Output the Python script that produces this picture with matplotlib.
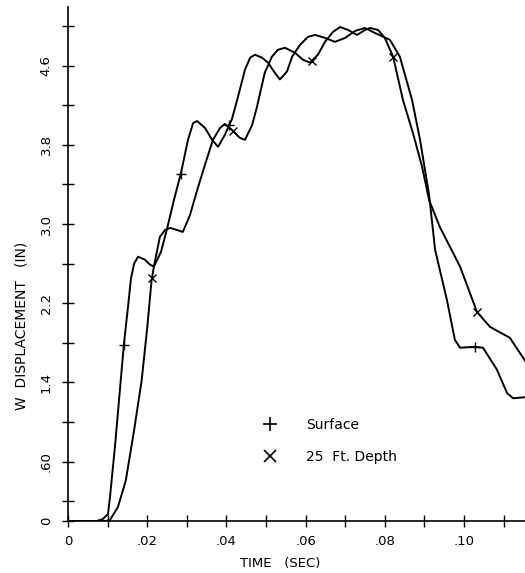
import numpy as np
import matplotlib
matplotlib.use("Agg")
import matplotlib.pyplot as plt
from matplotlib.lines import Line2D

# ---- data ----
surface_t = [0.0, 0.0073, 0.0088, 0.0101, 0.0106, 0.0119, 0.0131, 0.0141, 0.0152, 0.0159,
             0.0167, 0.0177, 0.0194, 0.0207, 0.0217, 0.0235, 0.0250, 0.0268, 0.0285, 0.0303,
             0.0316, 0.0326, 0.0346, 0.0364, 0.0379, 0.0396, 0.0414, 0.0429, 0.0447, 0.0460,
             0.0472, 0.0490, 0.0505, 0.0520, 0.0535, 0.0553, 0.0566, 0.0586, 0.0606, 0.0624,
             0.0649, 0.0674, 0.0700, 0.0725, 0.0750, 0.0775, 0.0813, 0.0838, 0.0869, 0.0889,
             0.0912, 0.0927, 0.0957, 0.0977, 0.0990, 0.1028, 0.1048, 0.1083, 0.1109, 0.1124,
             0.1154]
surface_w = [0.0, 0.0, 0.02, 0.07, 0.24, 0.77, 1.32, 1.78, 2.18, 2.45,
             2.60, 2.67, 2.64, 2.59, 2.57, 2.72, 2.95, 3.25, 3.51, 3.85,
             4.02, 4.04, 3.97, 3.85, 3.78, 3.90, 4.06, 4.28, 4.56, 4.68,
             4.71, 4.68, 4.63, 4.54, 4.46, 4.54, 4.69, 4.81, 4.89, 4.91,
             4.88, 4.84, 4.88, 4.95, 4.98, 4.93, 4.86, 4.69, 4.25, 3.85,
             3.29, 2.74, 2.23, 1.83, 1.75, 1.76, 1.75, 1.53, 1.29, 1.24,
             1.25]

depth_t = [0.0, 0.0095, 0.0106, 0.0126, 0.0146, 0.0167, 0.0186, 0.0200, 0.0211, 0.0217,
           0.0232, 0.0245, 0.0258, 0.0275, 0.0290, 0.0308, 0.0326, 0.0346, 0.0366, 0.0384,
           0.0396, 0.0414, 0.0434, 0.0447, 0.0465, 0.0477, 0.0497, 0.0515, 0.0530, 0.0548,
           0.0573, 0.0593, 0.0611, 0.0631, 0.0649, 0.0669, 0.0687, 0.0707, 0.0730, 0.0750,
           0.0763, 0.0783, 0.0800, 0.0821, 0.0846, 0.0871, 0.0894, 0.0912, 0.0939, 0.0990,
           0.1033, 0.1066, 0.1116, 0.1154]
depth_w = [0.0, 0.0, 0.01, 0.14, 0.41, 0.92, 1.42, 1.95, 2.43, 2.57,
           2.87, 2.94, 2.96, 2.94, 2.92, 3.09, 3.34, 3.60, 3.85, 3.97,
           4.01, 3.95, 3.87, 3.85, 4.00, 4.18, 4.53, 4.69, 4.76, 4.78,
           4.73, 4.66, 4.63, 4.71, 4.84, 4.94, 4.99, 4.96, 4.91, 4.96,
           4.98, 4.96, 4.88, 4.69, 4.25, 3.92, 3.58, 3.24, 2.97, 2.57,
           2.11, 1.96, 1.85, 1.62]

surface_marker_t = [0.0141, 0.0285, 0.0407, 0.1028]
depth_marker_t = [0.0212, 0.0417, 0.0616, 0.0821, 0.1033]

x_major = [0.0, 0.02, 0.04, 0.06, 0.08, 0.10]
x_major_labels = ["0", ".02", ".04", ".06", ".08", ".10"]
x_minor = [0.01, 0.03, 0.05, 0.07, 0.09, 0.11]
y_major = [0.0, 0.6, 1.4, 2.2, 3.0, 3.8, 4.6]
y_major_labels = ["0", ".60", "1.4", "2.2", "3.0", "3.8", "4.6"]
y_minor = [0.2, 1.0, 1.8, 2.6, 3.4, 4.2, 5.0]

# ---- figure ----
plt.rcParams['font.family'] = ['DejaVu Sans']
fig = plt.figure(figsize=(5.25, 5.73), dpi=100)
W, H = 525, 573
ax = fig.add_axes([68 / W, (H - 521) / H, (525 - 68) / W, (521 - 7) / H])

ax.plot(surface_t, surface_w, color='black', lw=1.4, solid_joinstyle='round')
ax.plot(depth_t, depth_w, color='black', lw=1.4, solid_joinstyle='round')

ax.plot(surface_marker_t, np.interp(surface_marker_t, surface_t, surface_w),
        ls='none', marker='+', ms=7, mew=1.0, color='black')
ax.plot(depth_marker_t, np.interp(depth_marker_t, depth_t, depth_w),
        ls='none', marker='x', ms=5.5, mew=1.0, color='black')

ax.set_xlim(0, (525 - 68) / 3960)
ax.set_ylim(0, (521 - 7) / 99)

for s in ['top', 'right']:
    ax.spines[s].set_visible(False)
for s in ['left', 'bottom']:
    ax.spines[s].set_linewidth(1.2)

ax.set_xticks(x_major)
ax.set_xticklabels(x_major_labels)
ax.set_xticks(x_minor, minor=True)
ax.set_yticks(y_major)
ax.set_yticklabels(y_major_labels, rotation=90, va='center')
ax.set_yticks(y_minor, minor=True)
ax.tick_params(which='both', direction='inout', length=8, width=1.0, labelsize=9.5)
ax.tick_params(axis='x', which='both', pad=6)
ax.tick_params(axis='y', which='both', pad=7)

fig.text(280 / W, 1 - 564 / H, "TIME   (SEC)", ha='center', va='center', fontsize=9.5)
fig.text(22 / W, 1 - 326 / H, "W  DISPLACEMENT   (IN)", ha='center', va='center',
         rotation=90, fontsize=10)

handles = [Line2D([], [], ls='none', marker='+', ms=10, mew=1.2, color='black'),
           Line2D([], [], ls='none', marker='x', ms=8, mew=1.2, color='black')]
ax.legend(handles, ["Surface", "25  Ft. Depth"], loc='upper left',
          bbox_to_anchor=((262 - 68) / 457, (521 - 418) / 514), frameon=False,
          fontsize=10, handlelength=1.2, handletextpad=1.95, labelspacing=1.3,
          borderpad=0, borderaxespad=0)

fig.savefig("out.png", dpi=100, facecolor='white')
